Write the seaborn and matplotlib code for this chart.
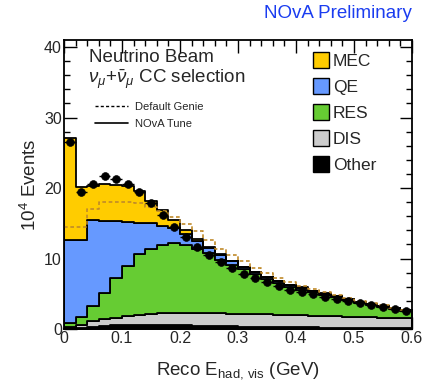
import numpy as np
import pandas as pd
import matplotlib
matplotlib.use("Agg")
import matplotlib.pyplot as plt
import seaborn as sns
from matplotlib.patches import Patch
from matplotlib.lines import Line2D

# ---------------- data (units of 10^4 events) ----------------
bin_edges = [0.00, 0.02, 0.04, 0.06, 0.08, 0.10, 0.12, 0.14, 0.16, 0.18, 0.20,
             0.22, 0.24, 0.26, 0.28, 0.30, 0.32, 0.34, 0.36, 0.38, 0.40,
             0.42, 0.44, 0.46, 0.48, 0.50, 0.52, 0.54, 0.56, 0.58, 0.60]
bin_centers = [0.01, 0.03, 0.05, 0.07, 0.09, 0.11, 0.13, 0.15, 0.17, 0.19,
               0.21, 0.23, 0.25, 0.27, 0.29, 0.31, 0.33, 0.35, 0.37, 0.39,
               0.41, 0.43, 0.45, 0.47, 0.49, 0.51, 0.53, 0.55, 0.57, 0.59]

other = [0.10, 0.20, 0.35, 0.45, 0.50, 0.55, 0.55, 0.55, 0.55, 0.50,
         0.50, 0.45, 0.45, 0.40, 0.40, 0.35, 0.35, 0.30, 0.30, 0.30,
         0.25, 0.25, 0.20, 0.20, 0.20, 0.20, 0.15, 0.15, 0.15, 0.15]
dis = [0.20, 0.40, 0.75, 0.95, 1.10, 1.25, 1.45, 1.55, 1.65, 1.70,
       1.70, 1.75, 1.75, 1.80, 1.75, 1.80, 1.75, 1.80, 1.75, 1.70,
       1.70, 1.65, 1.65, 1.60, 1.55, 1.50, 1.50, 1.45, 1.40, 1.35]
res = [0.60, 1.15, 2.15, 3.70, 5.70, 7.20, 8.65, 9.30, 9.75, 10.00,
       9.75, 9.20, 8.55, 7.60, 7.00, 6.30, 5.65, 5.00, 4.50, 4.00,
       3.65, 3.30, 3.00, 2.70, 2.35, 2.05, 1.80, 1.55, 1.30, 1.10]
qe = [11.70, 10.85, 12.25, 10.20, 8.00, 6.20, 4.45, 3.60, 2.70, 2.10,
      1.55, 1.10, 0.70, 0.70, 0.43, 0.35, 0.31, 0.27, 0.27, 0.28,
      0.28, 0.23, 0.18, 0.14, 0.14, 0.14, 0.14, 0.09, 0.09, 0.09]
mec = [14.50, 7.50, 4.80, 5.30, 5.10, 5.10, 4.50, 3.20, 2.25, 1.20,
       0.50, 0.30, 0.15, 0.10, 0.07, 0.05, 0.04, 0.03, 0.03, 0.02,
       0.02, 0.02, 0.02, 0.01, 0.01, 0.01, 0.01, 0.01, 0.01, 0.01]

default_genie = [14.4, 14.4, 17.0, 18.05, 18.0, 17.95, 17.9, 17.35, 16.7, 15.9,
                 14.9, 13.9, 12.6, 11.4, 10.45, 9.6, 8.7, 7.95, 7.3, 6.65,
                 6.15, 5.65, 5.2, 4.8, 4.4, 4.0, 3.7, 3.35, 3.05, 2.75]
data_points = [26.6, 19.4, 20.6, 21.7, 21.3, 20.6, 19.4, 17.9, 16.2, 14.5,
               13.1, 11.7, 10.5, 9.45, 8.6, 7.85, 7.2, 6.6, 6.05, 5.6,
               5.3, 4.9, 4.6, 4.25, 3.95, 3.65, 3.4, 3.1, 2.85, 2.55]

components = ["MEC", "QE", "RES", "DIS", "Other"]
colors = {"MEC": "#ffcc00", "QE": "#6699ff", "RES": "#66cc33",
          "DIS": "#cccccc", "Other": "#000000"}
values = {"MEC": mec, "QE": qe, "RES": res, "DIS": dis, "Other": other}

rows = []
for comp in components:
    for c, w in zip(bin_centers, values[comp]):
        rows.append({"x": c, "w": w, "component": comp})
df = pd.DataFrame(rows)

# ---------------- style ----------------
sns.set_theme(style="ticks")
plt.rcParams["font.family"] = ["Liberation Sans", "DejaVu Sans"]
plt.rcParams["mathtext.fontset"] = "custom"
plt.rcParams["mathtext.rm"] = "Liberation Sans"
plt.rcParams["mathtext.it"] = "Liberation Sans:italic"

fig = plt.figure(figsize=(4.35, 3.82), dpi=100)
ax = fig.add_axes([64 / 435, 1 - 329 / 382, 348 / 435, 289 / 382])

sns.histplot(data=df, x="x", weights="w", hue="component",
             hue_order=components, palette=colors, multiple="stack",
             bins=bin_edges, element="step", fill=True, alpha=1,
             edgecolor="black", linewidth=1.3, legend=False, ax=ax)

sns.histplot(x=bin_centers, weights=default_genie, bins=bin_edges,
             element="step", fill=False, color="#c08a2a",
             linestyle=(0, (2.2, 1.6)), linewidth=1.2, ax=ax)

ax.errorbar(bin_centers, data_points, xerr=0.01, fmt="none",
            ecolor="black", elinewidth=1.0, zorder=5)
sns.scatterplot(x=bin_centers, y=data_points, color="black", s=32,
                edgecolor="black", zorder=6, ax=ax)

ax.set_xlim(0, 0.6)
ax.set_ylim(0, 41)
ax.set_xticks([0, 0.1, 0.2, 0.3, 0.4, 0.5, 0.6])
ax.set_xticklabels(["0", "0.1", "0.2", "0.3", "0.4", "0.5", "0.6"])
ax.set_xticks(np.arange(0, 0.601, 0.02), minor=True)
ax.set_yticks([0, 10, 20, 30, 40])
ax.set_yticks(np.arange(0, 41, 2), minor=True)
ax.tick_params(which="both", direction="in", top=True, right=True,
               labelsize=11.5, color="black", width=1.0)
ax.tick_params(which="major", length=9)
ax.tick_params(which="minor", length=4.5)
ax.tick_params(axis="x", which="major", pad=1.5)
ax.tick_params(axis="y", which="major", pad=1.5)
for s in ax.spines.values():
    s.set_linewidth(1.3)
    s.set_color("black")

ax.set_xlabel(r"Reco E$_{\mathrm{had,\,vis}}$ (GeV)", fontsize=13.5, labelpad=10)
ax.set_ylabel(r"10$^{4}$ Events", fontsize=13.5, labelpad=3)

fig.text(412 / 435, 1 - 13 / 382, "NOvA Preliminary", color="#1a3cf0",
         fontsize=13.5, ha="right", va="center")

ax.text(89 / 435, 1 - 57 / 382, "Neutrino Beam", transform=fig.transFigure,
        fontsize=13.5, ha="left", va="center")
ax.text(88 / 435, 1 - 79 / 382, r"$\nu_{\mu}$+$\bar{\nu}_{\mu}$ CC selection",
        transform=fig.transFigure, fontsize=13.5, ha="left", va="center")

# right legend (components)
handles = [Patch(facecolor=colors[c], edgecolor="black", linewidth=1.0)
           for c in components]
leg1 = ax.legend(handles, components, loc="upper left",
                 bbox_to_anchor=((313 - 64) / 348, 1 - (52 - 40) / 289),
                 frameon=False, fontsize=12.5, handlelength=0.95,
                 handleheight=1.05, handletextpad=0.2, labelspacing=0.52,
                 borderpad=0, borderaxespad=0)
ax.add_artist(leg1)

# small legend (line styles)
lhandles = [Line2D([], [], color="black", linestyle=(0, (2.2, 1.6)), linewidth=1.0),
            Line2D([], [], color="black", linestyle="-", linewidth=1.2)]
ax.legend(lhandles, ["Default Genie", "NOvA Tune"], loc="upper left",
          bbox_to_anchor=((95 - 64) / 348, 1 - (102 - 40) / 289),
          frameon=False, fontsize=8, handlelength=3.0, handletextpad=0.6,
          labelspacing=0.6, borderpad=0, borderaxespad=0)

fig.savefig("out.png", dpi=100)
